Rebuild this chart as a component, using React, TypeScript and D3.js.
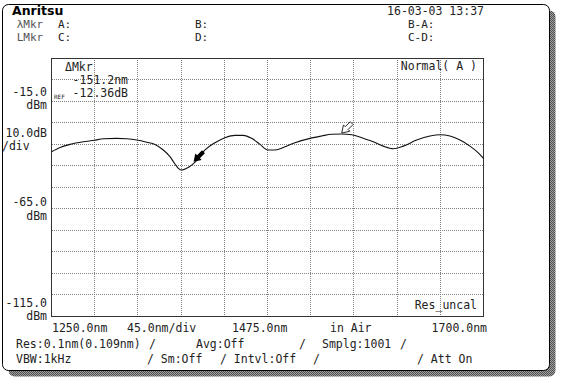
import React from "react";
import * as d3 from "d3";

const W = 561;
const H = 383;

// Trace data (wavelength nm, level dBm)
const wavelengths = [
  1250, 1258.9, 1269.3, 1283.1, 1294.6, 1304, 1317.9, 1328.3, 1338.8, 1349.2,
  1357.8, 1366.5, 1373.4, 1378.6, 1382.1, 1385.6, 1390.8, 1396, 1401.1, 1409.9,
  1420.3, 1430.7, 1441.1, 1449.8, 1458.5, 1467.2, 1475.2, 1482.8, 1493.2, 1503.6,
  1519.3, 1531.5, 1541.9, 1552.3, 1562.7, 1574.8, 1585.2, 1595.6, 1606.1, 1616.5,
  1630.4, 1644.3, 1654.7, 1665.1, 1675.5, 1685.9, 1694.6, 1700,
];
const levels = [
  -38.5, -36.5, -35.1, -33.9, -33.2, -32.5, -32.3, -32.5, -33.1, -34.1,
  -35.1, -37.7, -40.8, -44.2, -46.2, -47.0, -46.2, -44.7, -42.66, -37.7,
  -34.3, -32.0, -30.9, -30.9, -32.3, -35.1, -37.7, -37.7, -36.2, -34.3,
  -32.3, -31.2, -30.4, -30.3, -30.6, -32.3, -33.9, -35.9, -37.1, -35.9,
  -33.1, -31.2, -30.6, -31.2, -33.1, -35.9, -39.0, -41.6,
];

const xTickValues = [1250, 1295, 1340, 1385, 1430, 1475, 1520, 1565, 1610, 1655, 1700];
const yTickValues = [5, -5, -15, -25, -35, -45, -55, -65, -75, -85, -95, -105, -115];

const markerA = { nm: 1552.3, dBm: -30.3 };
const markerB = { nm: 1401.1, dBm: -42.66 };

const headerLabels = ["λMkr", "A:", "B:", "B-A:"];
const headerLabels2 = ["LMkr", "C:", "D:", "C-D:"];
const deltaLabels = ["ΔMkr", "-151.2nm", "-12.36dB"];
const bottomLabels = ["1250.0nm", "45.0nm/div", "1475.0nm", "in Air", "1700.0nm"];

const FONT = "'DejaVu Sans Mono', 'Liberation Mono', monospace";
const TXT = "#222";

export default function App() {
  const x = d3.scaleLinear().domain([1250, 1700]).range([51.5, 483.5]);
  const y = d3.scaleLinear().domain([-115, 5]).range([316.5, 58]);

  const pts = wavelengths.map((w, i) => [w, levels[i]] as [number, number]);
  const line = d3
    .line<[number, number]>()
    .x((d) => x(d[0]))
    .y((d) => y(d[1]))
    .curve(d3.curveMonotoneX);

  const arrowPts = "0,0 7,4.5 7,2 14,2 14,-2 7,-2 7,-4.5";

  const t = (s: string, px: number, py: number, extra: any = {}) => (
    <text x={px} y={py} fontFamily={FONT} fontSize={11.5} fill={TXT} {...extra}>
      {s}
    </text>
  );

  return (
    <svg
      width={W}
      height={H}
      style={{ position: "fixed", left: 0, top: 0, background: "#fff" }}
    >
      <defs>
        <pattern id="stip" width="2" height="2" patternUnits="userSpaceOnUse">
          <rect width="2" height="2" fill="#a0a0a0" />
          <rect width="1" height="1" fill="#505050" />
          <rect x="1" y="1" width="1" height="1" fill="#505050" />
        </pattern>
      </defs>

      {/* outer frame with shadow */}
      <rect x={8.5} y={10.5} width={547} height={366} rx={6} fill="url(#stip)" />
      <rect x={2.5} y={4.5} width={547} height={366} rx={6} fill="#fff" stroke="#000" strokeWidth={1} />

      {/* header */}
      <text x={12} y={15} fontFamily="'DejaVu Sans', sans-serif" fontWeight="bold" fontSize={12.5} fill="#000">
        Anritsu
      </text>
      {t("16-03-03 13:37", 484, 15, { textAnchor: "end" })}
      {[16.7, 58, 195, 408].map((px, i) => (
        <React.Fragment key={"h" + i}>
          {t(headerLabels[i], px, 28, { fontSize: 11, ...(i === 0 ? { fill: "#555" } : {}) })}
          {t(headerLabels2[i], px, 41, { fontSize: 11, ...(i === 0 ? { fill: "#555" } : {}) })}
        </React.Fragment>
      ))}

      {/* grid */}
      <g shapeRendering="crispEdges">
        {xTickValues.slice(1, -1).map((v) => (
          <line key={"gx" + v} x1={x(v)} x2={x(v)} y1={y(5)} y2={y(-115)} stroke="#808080" strokeDasharray="1,1" />
        ))}
        {yTickValues.slice(1, -1).map((v) => (
          <line key={"gy" + v} x1={x(1250)} x2={x(1700)} y1={y(v)} y2={y(v)} stroke="#808080" strokeDasharray="1,1" />
        ))}
        <rect x={x(1250)} y={y(5)} width={x(1700) - x(1250)} height={y(-115) - y(5)} fill="none" stroke="#333" />
      </g>

      {/* trace */}
      <path d={line(pts) || ""} fill="none" stroke="#111" strokeWidth={1.1} />

      {/* markers */}
      <polygon
        points={arrowPts}
        transform={`translate(${x(markerA.nm)},${y(markerA.dBm) - 1}) rotate(-45)`}
        fill="#fff"
        stroke="#222"
        strokeWidth={0.9}
      />
      <polygon
        points={arrowPts}
        transform={`translate(${x(markerB.nm) - 3},${y(markerB.dBm) + 1}) rotate(-45)`}
        fill="#000"
      />

      {/* plot annotations */}
      {t(deltaLabels[0], 65, 71)}
      {t(deltaLabels[1], 128, 84, { textAnchor: "end" })}
      {t(deltaLabels[2], 128, 97, { textAnchor: "end" })}
      <text x={54} y={99} fontFamily={FONT} fontSize={6} fill={TXT}>REF</text>
      {t("Normal( A )", 477, 70, { textAnchor: "end" })}
      {t("Res_uncal", 477, 309, { textAnchor: "end" })}

      {/* left labels */}
      {t("-15.0", 47, 96, { textAnchor: "end" })}
      {t("dBm", 47, 109, { textAnchor: "end" })}
      {t("10.0dB", 47, 137, { textAnchor: "end" })}
      {t("/div", 2, 150)}
      {t("-65.0", 47, 206, { textAnchor: "end" })}
      {t("dBm", 47, 220, { textAnchor: "end" })}
      {t("-115.0", 47, 307, { textAnchor: "end" })}
      {t("dBm", 47, 320, { textAnchor: "end" })}

      {/* bottom labels */}
      {t(bottomLabels[0], 52, 332)}
      {t(bottomLabels[1], 127, 332)}
      {t(bottomLabels[2], 232, 332)}
      {t(bottomLabels[3], 330, 332)}
      {t(bottomLabels[4], 487, 332, { textAnchor: "end" })}

      {/* status lines */}
      {t("Res:0.1nm(0.109nm)", 16, 348)}
      {t("/", 149, 348)}
      {t("Avg:Off", 196, 348)}
      {t("/", 299, 348)}
      {t("Smplg:1001", 322, 348)}
      {t("/", 400, 348)}
      {t("VBW:1kHz", 16, 363)}
      {t("/ Sm:Off", 147, 363)}
      {t("/ Intvl:Off", 220, 363)}
      {t("/", 313, 363)}
      {t("/ Att On", 417, 363)}
    </svg>
  );
}
